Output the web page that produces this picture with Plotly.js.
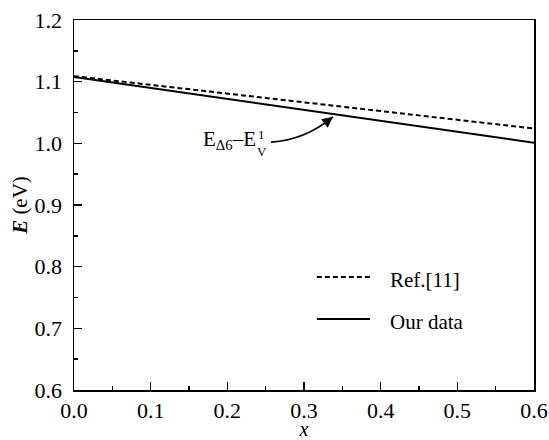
<!DOCTYPE html>
<html>
<head>
<meta charset="utf-8">
<script src="https://cdn.plot.ly/plotly-3.0.1.min.js"></script>
<style>html,body{margin:0;padding:0;background:#fff;}#chart{width:549px;height:440px;}</style>
</head>
<body>
<div id="chart"></div>
<script>
// Data
const xValues = [0.0, 0.6];
const refValues = [1.109, 1.024];      // Ref.[11] (dashed)
const ourValues = [1.1075, 1.001];     // Our data (solid)
const seriesNames = ['Ref.[11]', 'Our data'];
const xTicks = [0.0, 0.1, 0.2, 0.3, 0.4, 0.5, 0.6];
const xTickLabels = ['0.0', '0.1', '0.2', '0.3', '0.4', '0.5', '0.6'];
const yTicks = [0.6, 0.7, 0.8, 0.9, 1.0, 1.1, 1.2];
const yTickLabels = ['0.6', '0.7', '0.8', '0.9', '1.0', '1.1', '1.2'];

const FONT = 'Liberation Serif';

const traces = [
  {x: xValues, y: refValues, mode: 'lines', name: seriesNames[0],
   line: {color: '#000', width: 2, dash: '5px,3px'}, showlegend: false, hoverinfo: 'skip'},
  {x: xValues, y: ourValues, mode: 'lines', name: seriesNames[1],
   line: {color: '#000', width: 2}, showlegend: false, hoverinfo: 'skip'}
];

const axisCommon = {
  showgrid: false, zeroline: false, showline: true, linecolor: '#000', linewidth: 1.5,
  mirror: true, ticks: 'inside', ticklen: 8, tickwidth: 1.5, tickcolor: '#000',
  tickfont: {family: FONT, size: 22, color: '#000'},
  minor: {ticks: 'inside', ticklen: 4, tickwidth: 1.5, tickcolor: '#000', dtick: 0.05, showgrid: false}
};

const layout = {
  width: 549, height: 440,
  margin: {l: 74, r: 15, t: 20, b: 50},
  paper_bgcolor: '#fff', plot_bgcolor: '#fff',
  font: {family: FONT, size: 21, color: '#000'},
  xaxis: Object.assign({}, axisCommon, {
    range: [0, 0.6], tickvals: xTicks, ticktext: xTickLabels,
    title: {text: '<i>x</i>', font: {family: FONT, size: 20}, standoff: 4}
  }),
  yaxis: Object.assign({}, axisCommon, {
    range: [0.6, 1.2], tickvals: yTicks, ticktext: yTickLabels, ticklabelstandoff: 6,
    title: {text: '<b><i>E</i></b> (eV)', font: {family: FONT, size: 21}, standoff: 1}
  }),
  shapes: [
    // curved arrow path from label to the solid line
    {type: 'path', xref: 'x', yref: 'y',
     path: 'M 0.257 1.002 Q 0.3013 1.0054 0.3378 1.043',
     line: {color: '#000', width: 1.8}},
    // legend line samples
    {type: 'line', xref: 'paper', yref: 'paper', x0: 0.528, x1: 0.6435, y0: 0.3054, y1: 0.3054,
     line: {color: '#000', width: 2, dash: '5px,3px'}},
    {type: 'line', xref: 'paper', yref: 'paper', x0: 0.528, x1: 0.6435, y0: 0.192, y1: 0.192,
     line: {color: '#000', width: 2}}
  ],
  annotations: [
    {xref: 'x', yref: 'y', x: 0.3378, y: 1.043, ax: 0.3248, ay: 1.0305, axref: 'x', ayref: 'y',
     text: '', showarrow: true, arrowhead: 2, arrowsize: 1.2, arrowwidth: 1.8, arrowcolor: '#000'},
    {xref: 'paper', yref: 'paper', x: (258 - 74) / 460, y: (390 - 140) / 370, xanchor: 'right', yanchor: 'middle',
     text: 'E<sub>Δ6</sub>–E', showarrow: false, font: {family: FONT, size: 21}},
    {xref: 'paper', yref: 'paper', x: (256 - 74) / 460, y: (390 - 134) / 370, xanchor: 'left', yanchor: 'middle',
     text: '1', showarrow: false, font: {family: FONT, size: 13}},
    {xref: 'paper', yref: 'paper', x: (255 - 74) / 460, y: (390 - 151) / 370, xanchor: 'left', yanchor: 'middle',
     text: 'V', showarrow: false, font: {family: FONT, size: 13}},
    {xref: 'paper', yref: 'paper', x: 0.683, y: 0.297, xanchor: 'left', yanchor: 'middle',
     text: seriesNames[0], showarrow: false, font: {family: FONT, size: 21}},
    {xref: 'paper', yref: 'paper', x: 0.683, y: 0.184, xanchor: 'left', yanchor: 'middle',
     text: seriesNames[1], showarrow: false, font: {family: FONT, size: 21}}
  ]
};

Plotly.newPlot('chart', traces, layout, {displayModeBar: false, staticPlot: true});
</script>
</body>
</html>
